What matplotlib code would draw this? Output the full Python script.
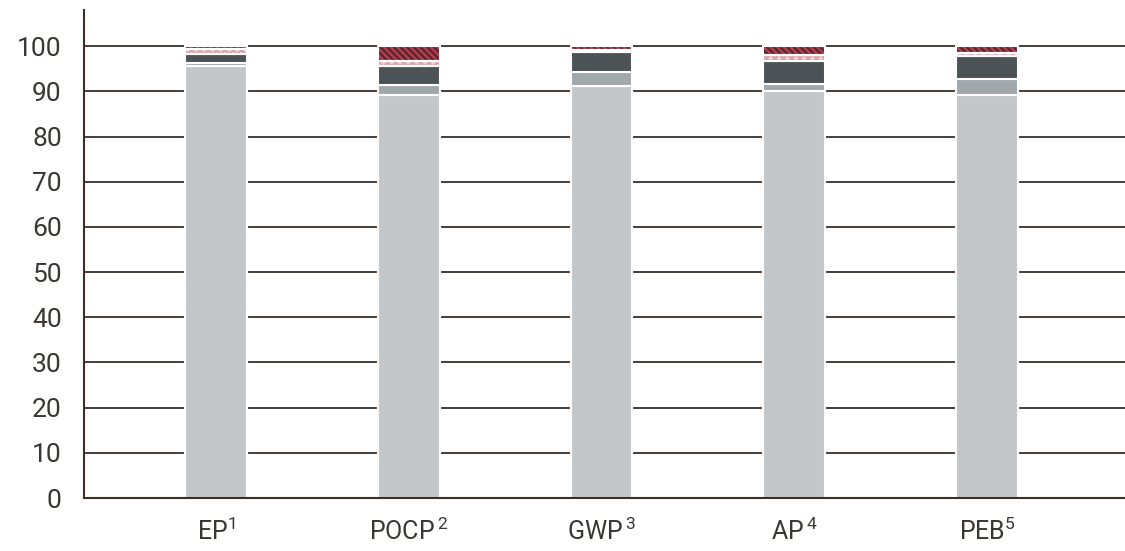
import numpy as np
import matplotlib.pyplot as plt
import matplotlib as mpl

mpl.rcParams["hatch.linewidth"] = 1.6

categories = ["EP$^1$", "POCP$^{\\,2}$", "GWP$^{\\,3}$", "AP$^{\\,4}$", "PEB$^5$"]

# stacked segments, bottom to top (percent)
light_grey = [95.6, 89.2, 91.2, 90.1, 89.2]
mid_grey = [0.7, 2.1, 3.0, 1.5, 3.5]
dark_grey = [1.9, 4.4, 4.4, 5.2, 5.2]
pink = [1.2, 1.0, 0.6, 1.2, 0.5]
red = [0.6, 3.3, 0.8, 2.0, 1.6]

grid_col = "#3b2f28"
text_col = "#3a3633"

plt.rcParams["font.family"] = ["Roboto", "DejaVu Sans"]
plt.rcParams["mathtext.default"] = "regular"

fig = plt.figure(figsize=(11.25, 5.51), dpi=100)
ax = fig.add_axes([84 / 1125, 1 - 498 / 551, 1 - 84 / 1125, (498 - 10) / 551])

x = np.arange(len(categories))
w = 0.32

for yv in range(10, 101, 10):
    ax.axhline(yv, color=grid_col, lw=1.3, zorder=0)

bottom = np.zeros(len(categories))
segments = [
    (light_grey, "#c3c7ca", None, None),
    (mid_grey, "#a0a8ab", None, None),
    (dark_grey, "#4c5356", None, None),
    (pink, "#f3d0d2", "xxxx", "#d9a5aa"),
    (red, "#b03e4e", "\\\\\\\\\\", "#5a242b"),
]
for vals, col, hatch, hcol in segments:
    vals = np.array(vals)
    if hatch:
        ax.bar(x, vals, w, bottom=bottom, color=col, hatch=hatch,
               edgecolor=hcol, lw=0, zorder=2)
        ax.bar(x, vals, w, bottom=bottom, fill=False, edgecolor="white",
               lw=1.5, zorder=3)
    else:
        ax.bar(x, vals, w, bottom=bottom, color=col, edgecolor="white",
               lw=1.5, zorder=2)
    bottom += vals

ax.set_xlim(-0.684, 4.715)
ax.set_ylim(0, 108)
ax.set_yticks(range(0, 101, 10))
ax.set_xticks(x)
ax.set_xticklabels(categories)
ax.tick_params(axis="y", length=0, pad=16, labelsize=19, labelcolor=text_col)
ax.tick_params(axis="x", length=0, pad=14, labelsize=18, labelcolor=text_col)

for s in ["top", "right"]:
    ax.spines[s].set_visible(False)
for s in ["left", "bottom"]:
    ax.spines[s].set_color(grid_col)
    ax.spines[s].set_linewidth(1.5)

fig.savefig("out.png", dpi=100)
